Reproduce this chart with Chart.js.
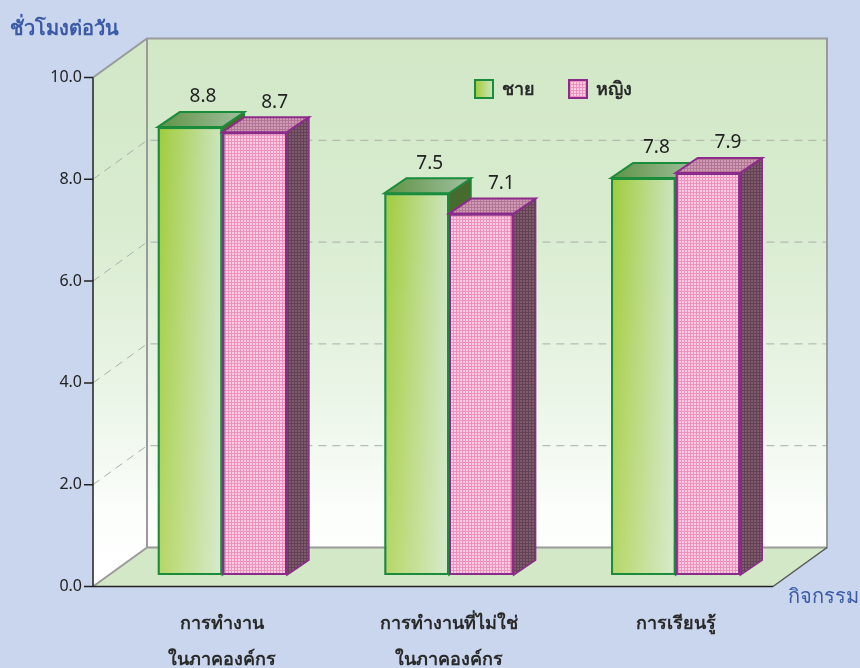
<!DOCTYPE html>
<html><head><meta charset="utf-8">
<script src="https://cdn.jsdelivr.net/npm/chart.js@4.4.1/dist/chart.umd.min.js"></script>
<style>html,body{margin:0;padding:0;background:#c9d6ee;}canvas{display:block}</style>
</head><body>
<canvas id="c" width="860" height="668"></canvas>
<script>
// ---- data ----
const categories = [['การทำงาน','ในภาคองค์กร'],['การทำงานที่ไม่ใช่','ในภาคองค์กร'],['การเรียนรู้']];
const seriesNames = ['ชาย','หญิง'];
const maleHours = [8.8, 7.5, 7.8];
const femaleHours = [8.7, 7.1, 7.9];
const yMin = 0, yMax = 10, yStep = 2;
const yTitle = 'ชั่วโมงต่อวัน';
const xTitle = 'กิจกรรม';

// ---- style / geometry ----
const FONT = "'Noto Sans', Tahoma, sans-serif";
const FRONT = {dx:-16, dy:11.5};
const WALL = {dx:54, dy:-39};
const BAR = {dx:22, dy:-15};
const CAT_PCT = 0.57;

function makePattern(bg, line){
  const c = document.createElement('canvas'); c.width = 3; c.height = 3;
  const g = c.getContext('2d');
  g.fillStyle = bg; g.fillRect(0,0,3,3);
  g.fillStyle = line; g.fillRect(0,0,3,1); g.fillRect(0,0,1,3);
  return g.createPattern(c,'repeat');
}
const ctx0 = document.getElementById('c').getContext('2d');
const pinkFront = makePattern('#fbcde1','#f090bf');
const pinkTop = makePattern('#cf9bb5','#b27594');
const pinkSide = makePattern('#7f5a6d','#644255');

function greenGrad(ctx, x0, x1){
  const g = ctx.createLinearGradient(x0, 0, x1, 0);
  g.addColorStop(0, '#9fcb3c');
  g.addColorStop(0.25, '#acd25a');
  g.addColorStop(1, '#cde5c1');
  return g;
}

function barGeom(chart, idx, ds){
  const xs = chart.scales.x;
  const c = xs.getPixelForValue(idx);
  const w = xs.width / categories.length * CAT_PCT / 2;
  return ds === 0 ? [c - w, c] : [c, c + w];
}

function drawFaces(ctx, bar, ds, border){
  const x0 = bar.x - bar.width/2, x1 = bar.x + bar.width/2;
  const yt = bar.y, yb = bar.base;
  if (ds === 0){
    const ov = ctx.createLinearGradient(0, yt, 0, yb);
    ov.addColorStop(0, 'rgba(255,255,255,0)');
    ov.addColorStop(1, 'rgba(255,255,255,0.22)');
    ctx.fillStyle = ov; ctx.fillRect(x0+1, yt+1, x1-x0-2, yb-yt-2);
  }
  ctx.beginPath();
  ctx.moveTo(x1, yt); ctx.lineTo(x1 + BAR.dx, yt + BAR.dy); ctx.lineTo(x1 + BAR.dx, yb + BAR.dy); ctx.lineTo(x1, yb); ctx.closePath();
  if (ds === 0){
    const g = ctx.createLinearGradient(0, yt, 0, yb);
    g.addColorStop(0, '#476b2e'); g.addColorStop(1, '#587f3c');
    ctx.fillStyle = g;
  } else ctx.fillStyle = pinkSide;
  ctx.fill();
  ctx.strokeStyle = border; ctx.lineWidth = 1.5; ctx.stroke();
  ctx.beginPath();
  ctx.moveTo(x0, yt); ctx.lineTo(x1, yt); ctx.lineTo(x1 + BAR.dx, yt + BAR.dy); ctx.lineTo(x0 + BAR.dx, yt + BAR.dy); ctx.closePath();
  if (ds === 0){
    const g = ctx.createLinearGradient(x0, yt, x1 + BAR.dx, yt);
    g.addColorStop(0, '#5f9244'); g.addColorStop(1, '#a0c0a0');
    ctx.fillStyle = g;
  } else ctx.fillStyle = pinkTop;
  ctx.fill();
  ctx.strokeStyle = border; ctx.lineWidth = 2; ctx.stroke();
  ctx.strokeRect(x0+1, yt+1, x1-x0-2, yb-yt-2);
}

const frame = {
  id: 'frame',
  beforeDatasetsDraw(chart){
    const {ctx, chartArea:a, scales:{y}} = chart;
    const Y = v => y.getPixelForValue(v) + FRONT.dy;
    const fx0 = a.left + FRONT.dx, fx1 = a.right + FRONT.dx;
    const y0 = Y(yMin), yT = Y(yMax);
    const bx0 = fx0 + WALL.dx, bx1 = fx1 + WALL.dx;
    const by0 = y0 + WALL.dy, byT = yT + WALL.dy;
    ctx.save();
    const grad = ctx.createLinearGradient(0, byT, 0, y0);
    grad.addColorStop(0, '#d1e7c6');
    grad.addColorStop(0.35, '#d9ecd0');
    grad.addColorStop(0.65, '#ebf5e7');
    grad.addColorStop(0.88, '#fcfefc');
    grad.addColorStop(1, '#ffffff');
    ctx.fillStyle = grad;
    ctx.fillRect(bx0, byT, bx1 - bx0, by0 - byT);
    ctx.beginPath();
    ctx.moveTo(fx0, yT); ctx.lineTo(bx0, byT); ctx.lineTo(bx0, by0); ctx.lineTo(fx0, y0); ctx.closePath();
    ctx.fill();
    ctx.beginPath();
    ctx.moveTo(fx0, y0); ctx.lineTo(bx0, by0); ctx.lineTo(bx1, by0); ctx.lineTo(fx1, y0); ctx.closePath();
    ctx.fillStyle = '#d2e8c7'; ctx.fill();
    ctx.strokeStyle = '#a9aeaa'; ctx.lineWidth = 1; ctx.setLineDash([8,6]);
    for (let v = yMin + yStep; v < yMax; v += yStep){
      const yy = Y(v);
      ctx.beginPath();
      ctx.moveTo(fx0, yy); ctx.lineTo(bx0, yy + WALL.dy); ctx.lineTo(bx1, yy + WALL.dy);
      ctx.stroke();
    }
    ctx.setLineDash([]);
    ctx.strokeStyle = '#9a9a9a'; ctx.lineWidth = 2;
    ctx.beginPath();
    ctx.moveTo(fx0, yT); ctx.lineTo(bx0, byT); ctx.lineTo(bx1, byT); ctx.lineTo(bx1, by0);
    ctx.lineTo(bx0, by0); ctx.lineTo(bx0, byT);
    ctx.moveTo(fx0, y0); ctx.lineTo(bx0, by0);
    ctx.stroke();
    ctx.strokeStyle = '#555'; ctx.lineWidth = 1.5;
    ctx.beginPath(); ctx.moveTo(bx1, by0); ctx.lineTo(fx1, y0); ctx.stroke();
    ctx.strokeStyle = '#222'; ctx.lineWidth = 1.5;
    ctx.beginPath();
    ctx.moveTo(fx0, yT); ctx.lineTo(fx0, y0); ctx.lineTo(fx1, y0);
    for (let v = yMin; v <= yMax; v += yStep){
      const yy = Y(v);
      ctx.moveTo(fx0 - 9, yy); ctx.lineTo(fx0, yy);
    }
    ctx.stroke();
    ctx.restore();
  },
  afterDatasetsDraw(chart){
    const {ctx} = chart;
    const m0 = chart.getDatasetMeta(0), m1 = chart.getDatasetMeta(1);
    const b0 = chart.data.datasets[0].borderColor, b1 = chart.data.datasets[1].borderColor;
    ctx.save();
    m0.data.forEach((g, i) => {
      const p = m1.data[i];
      drawFaces(ctx, g, 0, b0);
      p.draw(ctx);
      drawFaces(ctx, p, 1, b1);
    });
    ctx.font = "19px " + FONT; ctx.fillStyle = '#222'; ctx.textAlign = 'center'; ctx.textBaseline = 'middle';
    const offs = [13, 20];
    chart.data.datasets.forEach((d, di) => {
      chart.getDatasetMeta(di).data.forEach((bar, i) => {
        ctx.fillText(d.data[i].toFixed(1), bar.x + offs[di], bar.y + BAR.dy - 15);
      });
    });
    ctx.restore();
  },
  afterDraw(chart){
    const {ctx} = chart;
    ctx.save();
    const items = [{x:475, stroke:'#1b8c3c', name:seriesNames[0], tx:502},
                   {x:569, stroke:'#8b2c8b', name:seriesNames[1], tx:596}];
    items.forEach((it, k) => {
      ctx.fillStyle = k === 0 ? greenGrad(ctx, it.x, it.x + 18) : pinkFront;
      ctx.fillRect(it.x, 80, 18, 18);
      ctx.strokeStyle = it.stroke; ctx.lineWidth = 2; ctx.strokeRect(it.x, 80, 18, 18);
      ctx.fillStyle = '#2a2a2a'; ctx.font = "bold 18px " + FONT; ctx.textAlign = 'left'; ctx.textBaseline = 'middle';
      ctx.fillText(it.name, it.tx, 90);
    });
    ctx.fillStyle = '#3b59a6';
    ctx.font = "bold 20px " + FONT; ctx.textAlign = 'left'; ctx.textBaseline = 'middle';
    ctx.fillText(yTitle, 10, 29);
    ctx.font = "20px " + FONT;
    ctx.fillText(xTitle, 788, 597);
    ctx.restore();
  }
};

new Chart(ctx0, {
  type: 'bar',
  data: {
    labels: categories,
    datasets: [
      { label: seriesNames[0], data: maleHours, borderColor: '#1b8c3c', borderWidth: 2,
        backgroundColor(c){
          const ch = c.chart; if (!ch.chartArea || !ch.scales.x) return '#b5d67a';
          const [x0, x1] = barGeom(ch, c.dataIndex, 0);
          return greenGrad(ch.ctx, x0, x1);
        } },
      { label: seriesNames[1], data: femaleHours, borderColor: '#8b2c8b', borderWidth: 2,
        backgroundColor: pinkFront }
    ]
  },
  options: {
    responsive: false, animation: false,
    layout: { padding: { left: 0, top: 66, right: 71, bottom: 0 } },
    datasets: { bar: { categoryPercentage: CAT_PCT, barPercentage: 1.0 } },
    plugins: { legend: { display: false }, tooltip: { enabled: false } },
    scales: {
      x: {
        grid: { display: false, drawTicks: false }, border: { display: false },
        ticks: { color: '#2a2a2a', font: { family: FONT, size: 18, weight: 'bold', lineHeight: 2 }, padding: 31, maxRotation: 0, autoSkip: false },
        afterFit(s){ s.height = 93; }
      },
      y: {
        min: yMin, max: yMax,
        grid: { display: false, drawTicks: false }, border: { display: false },
        ticks: { stepSize: yStep, color: '#222', font: { family: FONT, size: 16 }, padding: 27, labelOffset: 11.5,
                 callback: v => Number(v).toFixed(1) },
        afterFit(s){ s.width = 109; }
      }
    }
  },
  plugins: [frame]
});
</script>
</body></html>
